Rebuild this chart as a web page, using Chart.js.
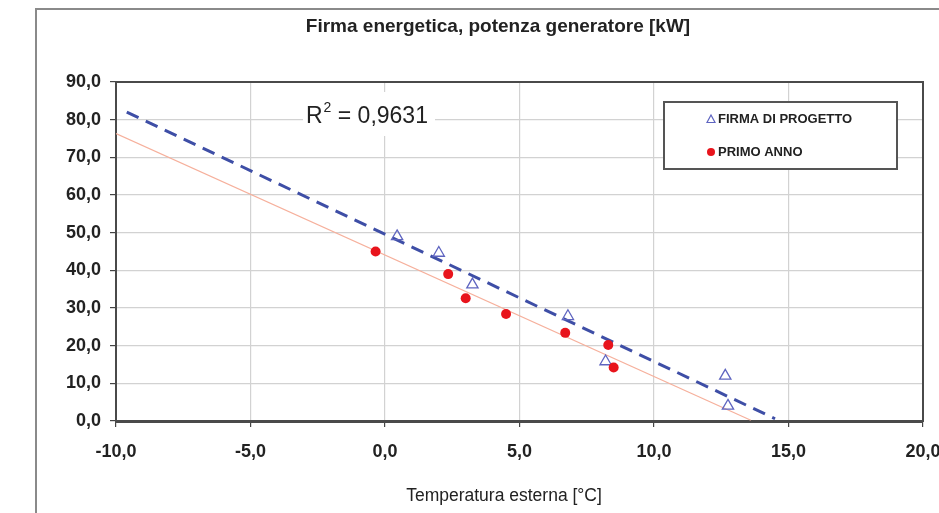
<!DOCTYPE html>
<html>
<head>
<meta charset="utf-8">
<script src="https://cdn.jsdelivr.net/npm/chart.js@4.4.1/dist/chart.umd.min.js"></script>
<style>
  html, body { margin: 0; padding: 0; background: #fff; }
  #wrap { width: 939px; height: 513px; }
</style>
</head>
<body>
<div id="wrap"><canvas id="myChart" width="939" height="513"></canvas></div>
<script>
// dati
const tempProgetto = [0.45, 2.0, 3.25, 6.8, 8.2, 12.65, 12.75];
const potProgetto = [49.0, 44.6, 36.2, 27.8, 15.8, 12.0, 4.0];
const tempPrimo = [-0.35, 2.35, 3.0, 4.5, 6.7, 8.3, 8.5];
const potPrimo = [45.0, 39.0, 32.6, 28.4, 23.4, 20.2, 14.2];

// linee di tendenza (estremi)
const trendProgettoX = [-9.6, 14.5];
const trendProgettoY = [82.0, 0.6];
const trendPrimoX = [-10.0, 13.6];
const trendPrimoY = [76.3, 0.2];

const xTicks = [-10, -5, 0, 5, 10, 15, 20];
const yTicks = [0, 10, 20, 30, 40, 50, 60, 70, 80, 90];

const titolo = "Firma energetica, potenza generatore [kW]";
const titoloX = "Temperatura esterna [°C]";
const testoR2 = "0,9631";

const famiglia = "'Liberation Sans', Arial, sans-serif";

function punti(xs, ys) {
  return xs.map((x, i) => ({ x: x, y: ys[i] }));
}
function virgola(v) {
  return Number(v).toFixed(1).replace(".", ",");
}

// cornice esterna, bordo area, R2, legenda, titoli
const decorazioni = {
  id: "decorazioni",
  beforeDraw(chart) {
    const ctx = chart.ctx;
    ctx.save();
    ctx.strokeStyle = "#8a8a8a";
    ctx.lineWidth = 2;
    ctx.beginPath();
    ctx.moveTo(36, 520);
    ctx.lineTo(36, 9);
    ctx.lineTo(945, 9);
    ctx.stroke();
    ctx.restore();
  },
  beforeDatasetsDraw(chart) {
    const ctx = chart.ctx;
    const a = chart.chartArea;
    ctx.save();
    // bordo area
    ctx.strokeStyle = "#4a4a4a";
    ctx.lineWidth = 2;
    ctx.strokeRect(a.left, a.top, a.right - a.left, a.bottom - a.top);
    // R2
    ctx.fillStyle = "#fff";
    ctx.fillRect(303, 92, 132, 44);
    ctx.fillStyle = "#222";
    ctx.textBaseline = "alphabetic";
    ctx.font = "23px " + famiglia;
    let x = 306, y = 123;
    ctx.fillText("R", x, y);
    x += ctx.measureText("R").width;
    ctx.font = "14px " + famiglia;
    ctx.fillText("2", x + 1, y - 11);
    x += ctx.measureText("2").width + 1;
    ctx.font = "23px " + famiglia;
    ctx.fillText(" = " + testoR2, x, y);
    ctx.restore();
  },
  afterDraw(chart) {
    const ctx = chart.ctx;
    ctx.save();
    // legenda
    ctx.fillStyle = "#fff";
    ctx.fillRect(664, 102, 233, 67);
    ctx.strokeStyle = "#555";
    ctx.lineWidth = 2;
    ctx.strokeRect(664, 102, 233, 67);
    const ds = chart.data.datasets;
    ctx.font = "bold 13px " + famiglia;
    ctx.textBaseline = "middle";
    ctx.fillStyle = "#222";
    // triangolo
    ctx.strokeStyle = ds[0].borderColor;
    ctx.lineWidth = 1.2;
    ctx.beginPath();
    ctx.moveTo(711, 115);
    ctx.lineTo(715, 122.5);
    ctx.lineTo(707, 122.5);
    ctx.closePath();
    ctx.stroke();
    ctx.fillText(ds[0].label, 718, 119);
    // cerchio
    ctx.fillStyle = ds[1].backgroundColor;
    ctx.beginPath();
    ctx.arc(711, 152, 4, 0, Math.PI * 2);
    ctx.fill();
    ctx.fillStyle = "#222";
    ctx.fillText(ds[1].label, 718, 152);
    // titolo
    ctx.textAlign = "center";
    ctx.font = "bold 19px " + famiglia;
    ctx.fillText(titolo, 498, 27);
    // titolo asse x
    ctx.font = "17.5px " + famiglia;
    ctx.fillText(titoloX, 504, 496);
    ctx.restore();
  }
};

const fontTick = { size: 18, weight: "bold", family: famiglia };

const config = {
  type: "scatter",
  data: {
    datasets: [
      {
        label: "FIRMA DI PROGETTO",
        data: punti(tempProgetto, potProgetto),
        pointStyle: "triangle",
        pointRadius: 6.5,
        pointBorderWidth: 1.3,
        borderColor: "#5e64c0",
        backgroundColor: "rgba(255,255,255,0)",
        order: 1
      },
      {
        label: "PRIMO ANNO",
        data: punti(tempPrimo, potPrimo),
        pointStyle: "circle",
        pointRadius: 5,
        pointBorderWidth: 0,
        borderColor: "#e8141c",
        backgroundColor: "#e8141c",
        order: 0
      },
      {
        label: "tendenza progetto",
        data: punti(trendProgettoX, trendProgettoY),
        showLine: true,
        pointRadius: 0,
        borderColor: "#3e4ea6",
        borderWidth: 3,
        borderDash: [13, 8],
        order: 3
      },
      {
        label: "tendenza primo anno",
        data: punti(trendPrimoX, trendPrimoY),
        showLine: true,
        pointRadius: 0,
        borderColor: "#f6b09c",
        borderWidth: 1.2,
        order: 4
      }
    ]
  },
  options: {
    responsive: false,
    animation: false,
    layout: { padding: { top: 82, right: 16, left: 0, bottom: 0 } },
    plugins: {
      legend: { display: false },
      title: { display: false },
      tooltip: { enabled: false }
    },
    scales: {
      x: {
        type: "linear",
        min: xTicks[0],
        max: xTicks[xTicks.length - 1],
        afterBuildTicks: (s) => { s.ticks = xTicks.map((v) => ({ value: v })); },
        ticks: {
          callback: virgola,
          font: fontTick,
          color: "#222",
          padding: 14,
          maxRotation: 0,
          autoSkip: false
        },
        grid: { color: "#d2d2d2", lineWidth: 1.2, tickLength: 6, tickColor: "#444" },
        border: { color: "#4a4a4a", width: 3 },
        afterFit: (s) => { s.height = 92; s.paddingLeft = 0; s.paddingRight = 0; }
      },
      y: {
        type: "linear",
        min: yTicks[0],
        max: yTicks[yTicks.length - 1],
        afterBuildTicks: (s) => { s.ticks = yTicks.map((v) => ({ value: v })); },
        ticks: {
          callback: virgola,
          font: fontTick,
          color: "#222",
          padding: 9,
          autoSkip: false
        },
        grid: { color: "#d2d2d2", lineWidth: 1.2, tickLength: 6, tickColor: "#444" },
        border: { color: "#4a4a4a", width: 2 },
        afterFit: (s) => { s.width = 116; s.paddingTop = 0; s.paddingBottom = 0; }
      }
    }
  },
  plugins: [decorazioni]
};

new Chart(document.getElementById("myChart").getContext("2d"), config);
</script>
</body>
</html>
